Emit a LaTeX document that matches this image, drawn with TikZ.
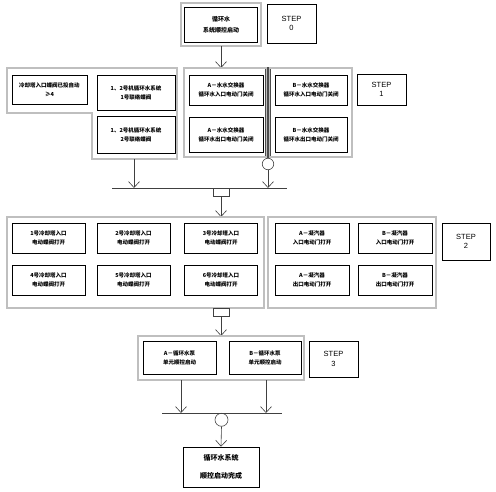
\documentclass[tikz,border=0pt]{standalone}
\usepackage{fontspec}
\newfontfamily\cjk{Noto Sans CJK SC}
\newfontfamily\stepfont{Liberation Sans}
\usetikzlibrary{arrows.meta}

\begin{document}
\begin{tikzpicture}[x=1pt, y=-1pt,
    grp/.style={draw=black!70, double=black!25, double distance=1.3pt, line width=0.8pt},
    btn/.style={draw, fill=white, line width=0.7pt, align=center, inner sep=0pt,
        minimum width=72pt, font=\cjk\bfseries\fontsize{5.5}{9}\selectfont,
        append after command={\pgfextra{
            \draw[line width=2pt] ([shift={(1pt,1.6pt)}]\tikzlastnode.south west)
                -- ([shift={(-1.6pt,1.6pt)}]\tikzlastnode.south east)
                -- ([shift={(-1.6pt,-1pt)}]\tikzlastnode.north east);}}},
    plain/.style={draw, fill=white, line width=0.6pt, align=center, inner sep=0pt,
        font=\cjk\bfseries\fontsize{5.5}{9}\selectfont},
    stepbox/.style={draw, fill=white, line width=0.7pt, align=center, inner sep=0pt,
        minimum width=48pt, font=\stepfont\fontsize{7.5}{9.5}\selectfont,
        append after command={\pgfextra{
            \draw[line width=1.3pt, black!75] ([shift={(0.8pt,1pt)}]\tikzlastnode.south west)
                -- ([shift={(-1pt,1pt)}]\tikzlastnode.south east)
                -- ([shift={(-1pt,-0.8pt)}]\tikzlastnode.north east);}}},
    arr/.style={draw=black!75, line width=0.6pt, -{Straight Barb[length=6pt, width=11pt]}},
    bar/.style={draw=black!75, line width=0.7pt},
    andbox/.style={draw=black!75, line width=0.6pt, minimum width=16pt, minimum height=8pt,
        inner sep=0pt, anchor=north},
    orbox/.style={draw=black!75, line width=0.6pt, circle, inner sep=0pt},
    ]
    \useasboundingbox (0,0) rectangle (496,492);

    % step 0
    \node[grp, minimum width=80pt, minimum height=43pt] (f0) at (221,24.5) {};
    \node[btn, minimum height=35pt, minimum width=73pt, font=\cjk\bfseries\fontsize{6}{11}\selectfont] (start) at (221,24.5) {循环水\\系统顺控启动};
    \node[stepbox, minimum height=39pt, minimum width=49pt] (s0) at (291.5,23.5) {STEP\\0};

    % step 1
    \coordinate (t1) at (221,68);
    \draw[arr] (f0.south) -- (t1);
    \draw[grp] (7,68) -- (177,68) -- (177,159) -- (92,159) -- (92,113) -- (7,113) -- cycle;
    \draw[grp] (184,68) rectangle (266.5,157);
    \draw[grp] (269.5,68) rectangle (352,157);

    \node[plain, minimum width=75pt, minimum height=29pt] (c1) at (49.5,89.5) {冷却塔入口蝶阀已投自动\\≥4};
    \node[plain, minimum width=78pt, minimum height=35pt] (c2) at (136,92.5) {1、2号机循环水系统\\1号联络蝶阀};
    \node[plain, minimum width=78pt, minimum height=37pt] (c3) at (136,134.5) {1、2号机循环水系统\\2号联络蝶阀};

    \node[btn, minimum height=30pt, minimum width=74pt] (a1) at (226,90) {A－水水交换器\\循环水入口电动门关闭};
    \node[btn, minimum height=35pt, minimum width=74pt] (a2) at (226,134.5) {A－水水交换器\\循环水出口电动门关闭};
    \node[btn, minimum height=30pt, minimum width=72pt] (b1) at (311,90) {B－水水交换器\\循环水入口电动门关闭};
    \node[btn, minimum height=35pt, minimum width=72pt] (b2) at (311,134.5) {B－水水交换器\\循环水出口电动门关闭};
    \node[stepbox, minimum height=31pt, minimum width=49pt] (s1) at (381.5,89.5) {STEP\\1};

    \coordinate (g1s) at (134,159);
    \coordinate (j1l) at (134,188);
    \coordinate (j1r) at (268,188);
    \node[orbox, minimum size=11.5pt] (or1) at (268,164) {};
    \draw[arr] (g1s) -- (j1l);
    \draw[arr] (or1.south) -- (j1r);
    \draw[bar] (112,188) -- (287,188);
    \node[andbox] (and1) at (221,188) {};
    \coordinate (t2) at (221,217);
    \draw[arr] (and1.south) -- (t2);

    % step 2
    \draw[grp] (7,217) rectangle (264,308);
    \draw[grp] (268,217) rectangle (436,308);
    \foreach \n/\cx/\cy in {1/48.5/238, 2/133.5/238, 3/221/238, 4/48.5/280, 5/133.5/280, 6/221/280}
        \node[btn, minimum height=30pt, minimum width=73pt] (v\n) at (\cx,\cy) {\n{}号冷却塔入口\\电动蝶阀打开};
    \node[btn, minimum height=30pt, minimum width=74pt] (na1) at (312,238) {A－凝汽器\\入口电动门打开};
    \node[btn, minimum height=30pt, minimum width=74pt] (nb1) at (395,238) {B－凝汽器\\入口电动门打开};
    \node[btn, minimum height=30pt, minimum width=74pt] (na2) at (312,280) {A－凝汽器\\出口电动门打开};
    \node[btn, minimum height=30pt, minimum width=74pt] (nb2) at (395,280) {B－凝汽器\\出口电动门打开};
    \node[stepbox, minimum height=37pt] (s2) at (466,241.5) {STEP\\2};

    \node[andbox] (and2) at (221,308) {};
    \coordinate (t3) at (221,336);
    \draw[arr] (and2.south) -- (t3);

    % step 3
    \draw[grp] (138,336) rectangle (304,380);
    \node[btn, minimum height=33pt, minimum width=73pt] (pa) at (179.5,357.5) {A－循环水泵\\单元顺控启动};
    \node[btn, minimum height=33pt, minimum width=72pt] (pb) at (265,357.5) {B－循环水泵\\单元顺控启动};
    \node[stepbox, minimum height=36pt, minimum width=49pt] (s3) at (333.5,359) {STEP\\3};

    \coordinate (pas) at (181,380);
    \coordinate (pbs) at (266,380);
    \coordinate (j3l) at (181,413);
    \coordinate (j3r) at (266,413);
    \draw[arr] (pas) -- (j3l);
    \draw[arr] (pbs) -- (j3r);
    \draw[bar] (162,413) -- (282,413);
    \node[orbox, minimum size=13pt, anchor=north] (or2) at (221.5,413) {};

    \node[plain, minimum width=76pt, minimum height=40pt, font=\cjk\bfseries\fontsize{7}{18}\selectfont] (done) at (221,467) {循环水系统\\顺控启动完成};
    \draw[arr] (or2.south) -- (done.north);
\end{tikzpicture}
\end{document}
